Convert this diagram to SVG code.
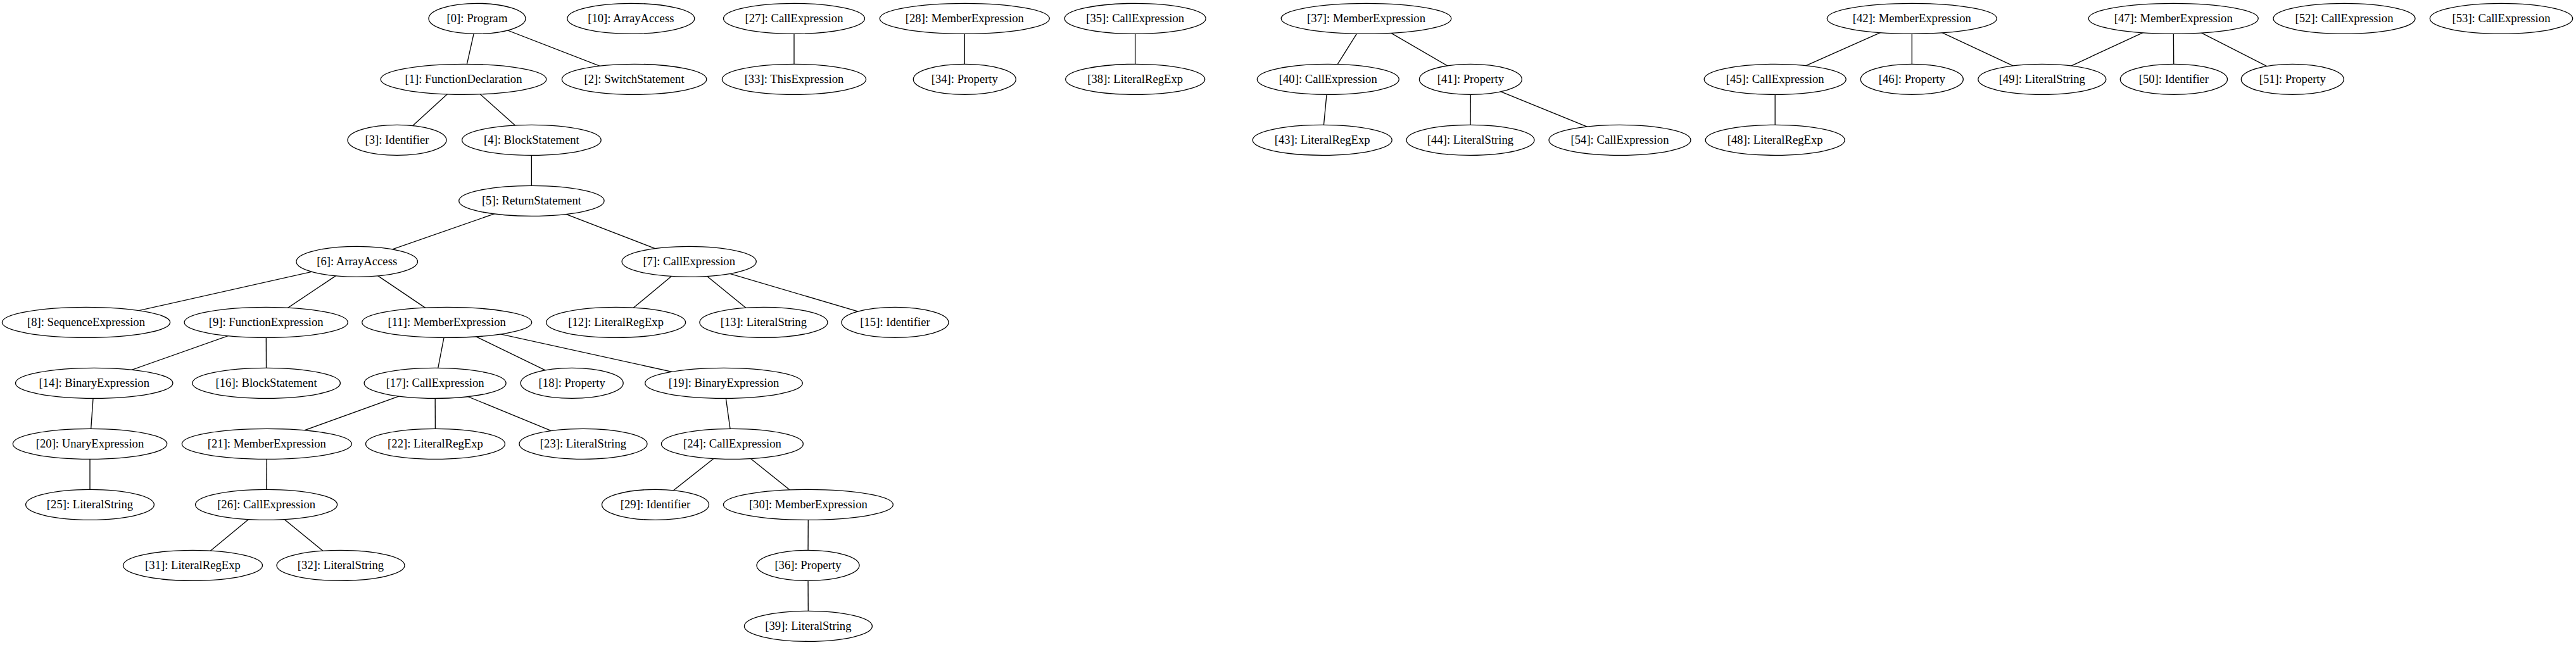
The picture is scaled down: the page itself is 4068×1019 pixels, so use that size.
<svg xmlns="http://www.w3.org/2000/svg" width="4068" height="1019" viewBox="0 0 4068 1019">
<style>
.n ellipse{fill:#fff;stroke:#000;stroke-width:1.33}
.n text{font-family:"Liberation Serif","Times New Roman",serif;font-size:18.67px;text-anchor:middle;fill:#000}
#edges line{stroke:#000;stroke-width:1.33}
</style>
<rect width="4068" height="1019" fill="#fff"/>
<g id="edges">
<line x1="753.5" y1="29.33" x2="732" y2="125.33"/>
<line x1="753.5" y1="29.33" x2="1001.6" y2="125.33"/>
<line x1="732" y1="125.33" x2="627" y2="221.33"/>
<line x1="732" y1="125.33" x2="839.4" y2="221.33"/>
<line x1="839.4" y1="221.33" x2="839.4" y2="317.33"/>
<line x1="839.4" y1="317.33" x2="563.7" y2="413.33"/>
<line x1="839.4" y1="317.33" x2="1088.2" y2="413.33"/>
<line x1="563.7" y1="413.33" x2="136" y2="509.33"/>
<line x1="563.7" y1="413.33" x2="420.2" y2="509.33"/>
<line x1="563.7" y1="413.33" x2="705.7" y2="509.33"/>
<line x1="1088.2" y1="413.33" x2="972.6" y2="509.33"/>
<line x1="1088.2" y1="413.33" x2="1205.9" y2="509.33"/>
<line x1="1088.2" y1="413.33" x2="1413.5" y2="509.33"/>
<line x1="420.2" y1="509.33" x2="148.7" y2="605.33"/>
<line x1="420.2" y1="509.33" x2="420.6" y2="605.33"/>
<line x1="705.7" y1="509.33" x2="687.1" y2="605.33"/>
<line x1="705.7" y1="509.33" x2="903.2" y2="605.33"/>
<line x1="705.7" y1="509.33" x2="1143" y2="605.33"/>
<line x1="148.7" y1="605.33" x2="142" y2="701.33"/>
<line x1="687.1" y1="605.33" x2="421.3" y2="701.33"/>
<line x1="687.1" y1="605.33" x2="687.5" y2="701.33"/>
<line x1="687.1" y1="605.33" x2="921" y2="701.33"/>
<line x1="1143" y1="605.33" x2="1156.4" y2="701.33"/>
<line x1="142" y1="701.33" x2="142" y2="797.33"/>
<line x1="421.3" y1="701.33" x2="420.6" y2="797.33"/>
<line x1="1156.4" y1="701.33" x2="1035" y2="797.33"/>
<line x1="1156.4" y1="701.33" x2="1276.4" y2="797.33"/>
<line x1="420.6" y1="797.33" x2="304.5" y2="893.33"/>
<line x1="420.6" y1="797.33" x2="538" y2="893.33"/>
<line x1="1276.4" y1="797.33" x2="1276" y2="893.33"/>
<line x1="1276" y1="893.33" x2="1276.4" y2="989.33"/>
<line x1="1254" y1="29.33" x2="1254" y2="125.33"/>
<line x1="1523.3" y1="29.33" x2="1523.3" y2="125.33"/>
<line x1="1792.7" y1="29.33" x2="1792.7" y2="125.33"/>
<line x1="2157.5" y1="29.33" x2="2097.3" y2="125.33"/>
<line x1="2157.5" y1="29.33" x2="2322.4" y2="125.33"/>
<line x1="2097.3" y1="125.33" x2="2088.2" y2="221.33"/>
<line x1="2322.4" y1="125.33" x2="2322" y2="221.33"/>
<line x1="2322.4" y1="125.33" x2="2558" y2="221.33"/>
<line x1="3019.3" y1="29.33" x2="2803.2" y2="125.33"/>
<line x1="3019.3" y1="29.33" x2="3019.3" y2="125.33"/>
<line x1="3019.3" y1="29.33" x2="3224.8" y2="125.33"/>
<line x1="3432.2" y1="29.33" x2="3224.8" y2="125.33"/>
<line x1="3432.2" y1="29.33" x2="3432.9" y2="125.33"/>
<line x1="3432.2" y1="29.33" x2="3620.3" y2="125.33"/>
<line x1="2803.2" y1="125.33" x2="2803.2" y2="221.33"/>
</g>
<g id="n0" class="n"><ellipse cx="753.5" cy="29.33" rx="76.5" ry="24"/><text x="753.5" y="35">[0]: Program</text></g>
<g id="n10" class="n"><ellipse cx="996.3" cy="29.33" rx="100.5" ry="24"/><text x="996.3" y="35">[10]: ArrayAccess</text></g>
<g id="n27" class="n"><ellipse cx="1254" cy="29.33" rx="111.5" ry="24"/><text x="1254" y="35">[27]: CallExpression</text></g>
<g id="n28" class="n"><ellipse cx="1523.3" cy="29.33" rx="134" ry="24"/><text x="1523.3" y="35">[28]: MemberExpression</text></g>
<g id="n35" class="n"><ellipse cx="1792.7" cy="29.33" rx="111.5" ry="24"/><text x="1792.7" y="35">[35]: CallExpression</text></g>
<g id="n37" class="n"><ellipse cx="2157.5" cy="29.33" rx="134.3" ry="24"/><text x="2157.5" y="35">[37]: MemberExpression</text></g>
<g id="n42" class="n"><ellipse cx="3019.3" cy="29.33" rx="134" ry="24"/><text x="3019.3" y="35">[42]: MemberExpression</text></g>
<g id="n47" class="n"><ellipse cx="3432.2" cy="29.33" rx="134" ry="24"/><text x="3432.2" y="35">[47]: MemberExpression</text></g>
<g id="n52" class="n"><ellipse cx="3702" cy="29.33" rx="112" ry="24"/><text x="3702" y="35">[52]: CallExpression</text></g>
<g id="n53" class="n"><ellipse cx="3950" cy="29.33" rx="112.7" ry="24"/><text x="3950" y="35">[53]: CallExpression</text></g>
<g id="n1" class="n"><ellipse cx="732" cy="125.33" rx="130.8" ry="24"/><text x="732" y="131">[1]: FunctionDeclaration</text></g>
<g id="n2" class="n"><ellipse cx="1001.6" cy="125.33" rx="114.2" ry="24"/><text x="1001.6" y="131">[2]: SwitchStatement</text></g>
<g id="n33" class="n"><ellipse cx="1254" cy="125.33" rx="113.6" ry="24"/><text x="1254" y="131">[33]: ThisExpression</text></g>
<g id="n34" class="n"><ellipse cx="1523.3" cy="125.33" rx="81" ry="24"/><text x="1523.3" y="131">[34]: Property</text></g>
<g id="n38" class="n"><ellipse cx="1792.7" cy="125.33" rx="110" ry="24"/><text x="1792.7" y="131">[38]: LiteralRegExp</text></g>
<g id="n40" class="n"><ellipse cx="2097.3" cy="125.33" rx="112" ry="24"/><text x="2097.3" y="131">[40]: CallExpression</text></g>
<g id="n41" class="n"><ellipse cx="2322.4" cy="125.33" rx="81" ry="24"/><text x="2322.4" y="131">[41]: Property</text></g>
<g id="n45" class="n"><ellipse cx="2803.2" cy="125.33" rx="112" ry="24"/><text x="2803.2" y="131">[45]: CallExpression</text></g>
<g id="n46" class="n"><ellipse cx="3019.3" cy="125.33" rx="81" ry="24"/><text x="3019.3" y="131">[46]: Property</text></g>
<g id="n49" class="n"><ellipse cx="3224.8" cy="125.33" rx="101" ry="24"/><text x="3224.8" y="131">[49]: LiteralString</text></g>
<g id="n50" class="n"><ellipse cx="3432.9" cy="125.33" rx="84.6" ry="24"/><text x="3432.9" y="131">[50]: Identifier</text></g>
<g id="n51" class="n"><ellipse cx="3620.3" cy="125.33" rx="81" ry="24"/><text x="3620.3" y="131">[51]: Property</text></g>
<g id="n3" class="n"><ellipse cx="627" cy="221.33" rx="78" ry="24"/><text x="627" y="227">[3]: Identifier</text></g>
<g id="n4" class="n"><ellipse cx="839.4" cy="221.33" rx="109.8" ry="24"/><text x="839.4" y="227">[4]: BlockStatement</text></g>
<g id="n43" class="n"><ellipse cx="2088.2" cy="221.33" rx="110" ry="24"/><text x="2088.2" y="227">[43]: LiteralRegExp</text></g>
<g id="n44" class="n"><ellipse cx="2322" cy="221.33" rx="101" ry="24"/><text x="2322" y="227">[44]: LiteralString</text></g>
<g id="n54" class="n"><ellipse cx="2558" cy="221.33" rx="112" ry="24"/><text x="2558" y="227">[54]: CallExpression</text></g>
<g id="n48" class="n"><ellipse cx="2803.2" cy="221.33" rx="110" ry="24"/><text x="2803.2" y="227">[48]: LiteralRegExp</text></g>
<g id="n5" class="n"><ellipse cx="839.4" cy="317.33" rx="114.7" ry="24"/><text x="839.4" y="323">[5]: ReturnStatement</text></g>
<g id="n6" class="n"><ellipse cx="563.7" cy="413.33" rx="95.8" ry="24"/><text x="563.7" y="419">[6]: ArrayAccess</text></g>
<g id="n7" class="n"><ellipse cx="1088.2" cy="413.33" rx="106.1" ry="24"/><text x="1088.2" y="419">[7]: CallExpression</text></g>
<g id="n8" class="n"><ellipse cx="136" cy="509.33" rx="132.6" ry="24"/><text x="136" y="515">[8]: SequenceExpression</text></g>
<g id="n9" class="n"><ellipse cx="420.2" cy="509.33" rx="129.1" ry="24"/><text x="420.2" y="515">[9]: FunctionExpression</text></g>
<g id="n11" class="n"><ellipse cx="705.7" cy="509.33" rx="134" ry="24"/><text x="705.7" y="515">[11]: MemberExpression</text></g>
<g id="n12" class="n"><ellipse cx="972.6" cy="509.33" rx="110" ry="24"/><text x="972.6" y="515">[12]: LiteralRegExp</text></g>
<g id="n13" class="n"><ellipse cx="1205.9" cy="509.33" rx="101" ry="24"/><text x="1205.9" y="515">[13]: LiteralString</text></g>
<g id="n15" class="n"><ellipse cx="1413.5" cy="509.33" rx="84.5" ry="24"/><text x="1413.5" y="515">[15]: Identifier</text></g>
<g id="n14" class="n"><ellipse cx="148.7" cy="605.33" rx="124.2" ry="24"/><text x="148.7" y="611">[14]: BinaryExpression</text></g>
<g id="n16" class="n"><ellipse cx="420.6" cy="605.33" rx="116.8" ry="24"/><text x="420.6" y="611">[16]: BlockStatement</text></g>
<g id="n17" class="n"><ellipse cx="687.1" cy="605.33" rx="112" ry="24"/><text x="687.1" y="611">[17]: CallExpression</text></g>
<g id="n18" class="n"><ellipse cx="903.2" cy="605.33" rx="81" ry="24"/><text x="903.2" y="611">[18]: Property</text></g>
<g id="n19" class="n"><ellipse cx="1143" cy="605.33" rx="124.3" ry="24"/><text x="1143" y="611">[19]: BinaryExpression</text></g>
<g id="n20" class="n"><ellipse cx="142" cy="701.33" rx="121.7" ry="24"/><text x="142" y="707">[20]: UnaryExpression</text></g>
<g id="n21" class="n"><ellipse cx="421.3" cy="701.33" rx="134" ry="24"/><text x="421.3" y="707">[21]: MemberExpression</text></g>
<g id="n22" class="n"><ellipse cx="687.5" cy="701.33" rx="110" ry="24"/><text x="687.5" y="707">[22]: LiteralRegExp</text></g>
<g id="n23" class="n"><ellipse cx="921" cy="701.33" rx="101" ry="24"/><text x="921" y="707">[23]: LiteralString</text></g>
<g id="n24" class="n"><ellipse cx="1156.4" cy="701.33" rx="112" ry="24"/><text x="1156.4" y="707">[24]: CallExpression</text></g>
<g id="n25" class="n"><ellipse cx="142" cy="797.33" rx="101.4" ry="24"/><text x="142" y="803">[25]: LiteralString</text></g>
<g id="n26" class="n"><ellipse cx="420.6" cy="797.33" rx="112" ry="24"/><text x="420.6" y="803">[26]: CallExpression</text></g>
<g id="n29" class="n"><ellipse cx="1035" cy="797.33" rx="84.5" ry="24"/><text x="1035" y="803">[29]: Identifier</text></g>
<g id="n30" class="n"><ellipse cx="1276.4" cy="797.33" rx="134" ry="24"/><text x="1276.4" y="803">[30]: MemberExpression</text></g>
<g id="n31" class="n"><ellipse cx="304.5" cy="893.33" rx="110" ry="24"/><text x="304.5" y="899">[31]: LiteralRegExp</text></g>
<g id="n32" class="n"><ellipse cx="538" cy="893.33" rx="101" ry="24"/><text x="538" y="899">[32]: LiteralString</text></g>
<g id="n36" class="n"><ellipse cx="1276" cy="893.33" rx="81" ry="24"/><text x="1276" y="899">[36]: Property</text></g>
<g id="n39" class="n"><ellipse cx="1276.4" cy="989.33" rx="101" ry="24"/><text x="1276.4" y="995">[39]: LiteralString</text></g>
</svg>
